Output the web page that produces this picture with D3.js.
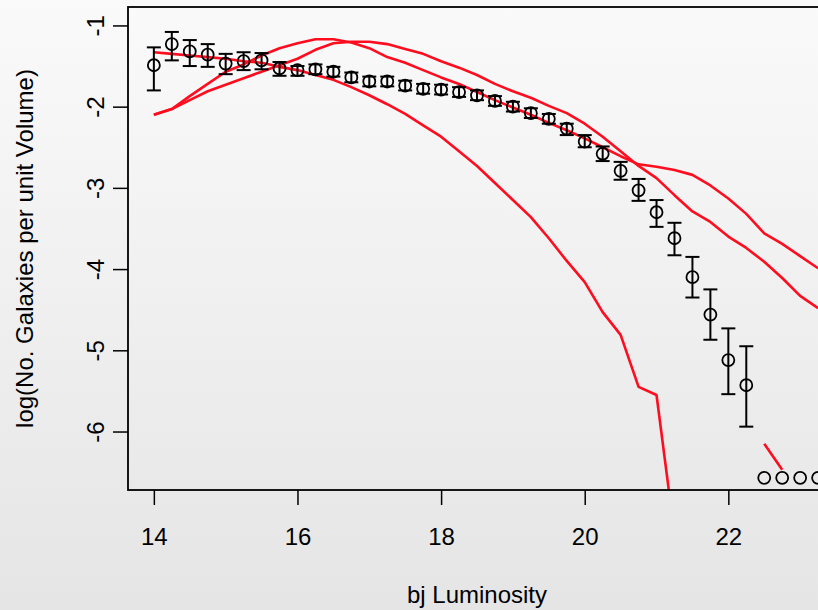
<!DOCTYPE html>
<html>
<head>
<meta charset="utf-8">
<script src="https://cdn.jsdelivr.net/npm/d3@7"></script>
<style>
  html, body { margin: 0; padding: 0; overflow: hidden; }
  text { font-family: "Liberation Sans", Arial, Helvetica, sans-serif; }
</style>
</head>
<body>
<div id="chart"></div>
<script>
// magnitude bins (bj)
const mags = [14, 14.25, 14.5, 14.75, 15, 15.25, 15.5, 15.75, 16, 16.25, 16.5, 16.75,
  17, 17.25, 17.5, 17.75, 18, 18.25, 18.5, 18.75, 19, 19.25, 19.5, 19.75,
  20, 20.25, 20.5, 20.75, 21, 21.25, 21.5, 21.75, 22, 22.25, 22.5, 22.75, 23, 23.25];

// observed log counts with error bar ends
const obs = [-1.49, -1.23, -1.32, -1.36, -1.47, -1.44, -1.43, -1.53, -1.55, -1.54, -1.57, -1.64,
  -1.69, -1.69, -1.74, -1.78, -1.79, -1.82, -1.86, -1.93, -2.00, -2.08, -2.15, -2.27,
  -2.43, -2.58, -2.79, -3.03, -3.30, -3.62, -4.10, -4.56, -5.12, -5.43, -6.57, -6.57, -6.57, -6.57];
const obsLo = [-1.80, -1.43, -1.50, -1.51, -1.60, -1.55, -1.54, -1.62, -1.62, -1.60, -1.63, -1.70,
  -1.75, -1.75, -1.80, -1.84, -1.85, -1.88, -1.92, -1.99, -2.06, -2.14, -2.21, -2.35,
  -2.50, -2.67, -2.90, -3.16, -3.48, -3.83, -4.35, -4.87, -5.54, -5.94, null, null, null, null];
const obsHi = [-1.27, -1.08, -1.18, -1.23, -1.35, -1.33, -1.34, -1.45, -1.50, -1.48, -1.51, -1.58,
  -1.63, -1.63, -1.68, -1.72, -1.73, -1.76, -1.80, -1.87, -1.94, -2.02, -2.09, -2.21,
  -2.35, -2.49, -2.68, -2.89, -3.15, -3.43, -3.85, -4.25, -4.73, -4.95, null, null, null, null];

// model curves
const modelA = [-1.33, -1.35, -1.37, -1.39, -1.41, -1.44, -1.46, -1.51, -1.55, -1.61, -1.67, -1.76,
  -1.86, -1.97, -2.09, -2.23, -2.37, -2.55, -2.73, -2.94, -3.15, -3.36, -3.62, -3.90,
  -4.16, -4.53, -4.81, -5.45, -5.55, -7.26, null, null, null, null, -6.15, -6.47, null, null];
const modelB = [-2.10, -2.03, -1.87, -1.72, -1.57, -1.48, -1.37, -1.28, -1.22, -1.17, -1.17, -1.21,
  -1.28, -1.39, -1.46, -1.55, -1.64, -1.72, -1.82, -1.92, -2.01, -2.10, -2.20, -2.29,
  -2.39, -2.50, -2.61, -2.71, -2.74, -2.78, -2.84, -2.97, -3.13, -3.32, -3.56, -3.69, -3.84, -3.99];
const modelC = [-2.10, -2.03, -1.92, -1.81, -1.73, -1.65, -1.57, -1.49, -1.41, -1.30, -1.22, -1.20,
  -1.20, -1.23, -1.29, -1.35, -1.44, -1.52, -1.61, -1.72, -1.81, -1.89, -1.99, -2.08,
  -2.21, -2.37, -2.55, -2.73, -2.88, -3.09, -3.29, -3.42, -3.60, -3.74, -3.91, -4.11, -4.33, -4.48];

const xTicks = [14, 16, 18, 20, 22];
const yTicks = [-6, -5, -4, -3, -2, -1];

const width = 818, height = 610;
const plot = {left: 128, right: 826, top: 7, bottom: 490};

const svg = d3.select("#chart").append("svg")
    .attr("width", width)
    .attr("height", height);

const grad = svg.append("defs").append("linearGradient")
    .attr("id", "bg")
    .attr("x1", 0).attr("y1", 0).attr("x2", 0).attr("y2", 1);
grad.append("stop").attr("offset", "0%").attr("stop-color", "#fafafa");
grad.append("stop").attr("offset", "100%").attr("stop-color", "#e5e5e5");

svg.select("defs").append("clipPath")
    .attr("id", "plotClip")
  .append("rect")
    .attr("x", plot.left).attr("y", plot.top)
    .attr("width", plot.right - plot.left)
    .attr("height", plot.bottom - plot.top);

svg.append("rect")
    .attr("width", width).attr("height", height)
    .attr("fill", "url(#bg)");

const x = d3.scaleLinear().domain([13.64, 23.36]).range([plot.left, plot.right]);
const y = d3.scaleLinear().domain([-6.72, -0.773]).range([plot.bottom, plot.top]);

const g = svg.append("g").attr("clip-path", "url(#plotClip)");

const line = d3.line()
    .defined(d => d[1] != null)
    .x(d => x(d[0]))
    .y(d => y(d[1]));

for (const m of [modelA, modelB, modelC]) {
  g.append("path")
      .datum(mags.map((v, i) => [v, m[i]]))
      .attr("fill", "none")
      .attr("stroke", "#ff0d1f")
      .attr("stroke-width", 2.6)
      .attr("stroke-linejoin", "round")
      .attr("d", line);
}

const pts = mags.map((v, i) => ({m: v, y: obs[i], lo: obsLo[i], hi: obsHi[i]}));
const bars = g.append("g")
    .attr("stroke", "#000")
    .attr("stroke-width", 2)
  .selectAll("g")
  .data(pts.filter(d => d.lo != null))
  .join("g");

bars.append("line")
    .attr("x1", d => x(d.m)).attr("x2", d => x(d.m))
    .attr("y1", d => y(d.lo)).attr("y2", d => y(d.hi));
bars.append("line")
    .attr("x1", d => x(d.m) - 7).attr("x2", d => x(d.m) + 7)
    .attr("y1", d => y(d.lo)).attr("y2", d => y(d.lo));
bars.append("line")
    .attr("x1", d => x(d.m) - 7).attr("x2", d => x(d.m) + 7)
    .attr("y1", d => y(d.hi)).attr("y2", d => y(d.hi));

g.append("g")
    .attr("fill", "none")
    .attr("stroke", "#000")
    .attr("stroke-width", 1.8)
  .selectAll("circle")
  .data(pts)
  .join("circle")
    .attr("cx", d => x(d.m))
    .attr("cy", d => y(d.y))
    .attr("r", 6);

// box
svg.append("rect")
    .attr("x", plot.left).attr("y", plot.top)
    .attr("width", plot.right - plot.left)
    .attr("height", plot.bottom - plot.top)
    .attr("fill", "none")
    .attr("stroke", "#000")
    .attr("stroke-width", 1.8);

const xAxis = svg.append("g")
    .attr("transform", `translate(0,${plot.bottom})`)
    .call(d3.axisBottom(x).tickValues(xTicks).tickSize(15).tickFormat(d3.format("d")));
xAxis.select(".domain").remove();
xAxis.selectAll("line").attr("stroke", "#000").attr("stroke-width", 1.5);
xAxis.selectAll("text")
    .attr("y", 55).attr("dy", 0)
    .attr("fill", "#000")
    .style("font-size", "24px");

const yAxis = svg.append("g")
    .attr("transform", `translate(${plot.left},0)`)
    .call(d3.axisLeft(y).tickValues(yTicks).tickSize(15).tickFormat(d => String(d)));
yAxis.select(".domain").remove();
yAxis.selectAll("line").attr("stroke", "#000").attr("stroke-width", 1.5);
yAxis.selectAll("text")
    .attr("transform", "rotate(-90)")
    .attr("x", 0).attr("y", -24).attr("dy", 0)
    .attr("text-anchor", "middle")
    .attr("fill", "#000")
    .style("font-size", "24px");

svg.append("text")
    .attr("x", (plot.left + plot.right) / 2)
    .attr("y", 603)
    .attr("text-anchor", "middle")
    .style("font-size", "24px")
    .text("bj Luminosity");

svg.append("text")
    .attr("transform", `translate(33,${(plot.top + plot.bottom) / 2}) rotate(-90)`)
    .attr("text-anchor", "middle")
    .style("font-size", "24px")
    .text("log(No. Galaxies per unit Volume)");
</script>
</body>
</html>
